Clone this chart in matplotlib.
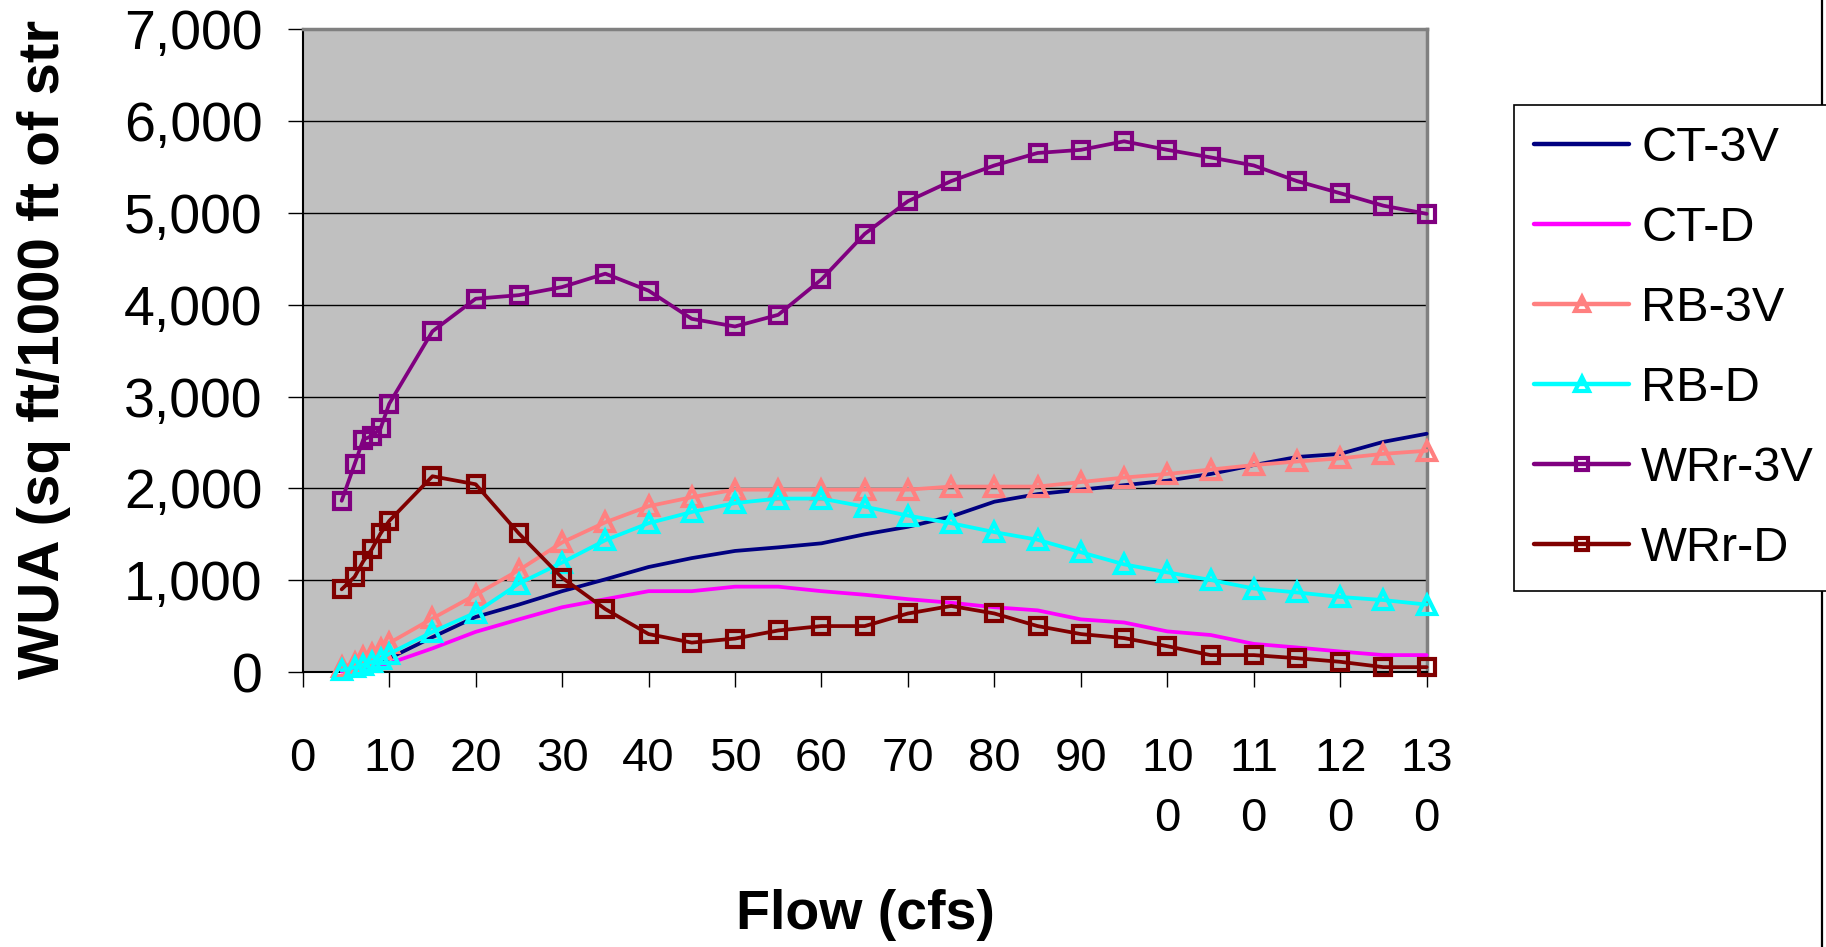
import matplotlib
matplotlib.use("Agg")
import matplotlib.pyplot as plt
from matplotlib.ticker import FuncFormatter, MultipleLocator
from matplotlib.lines import Line2D

plt.rcParams['font.family'] = ['Liberation Sans', 'DejaVu Sans']

# Flow values (cfs)
flow = [4.5, 6, 7, 8, 9, 10, 15, 20, 25, 30, 35, 40, 45, 50, 55, 60, 65,
        70, 75, 80, 85, 90, 95, 100, 105, 110, 115, 120, 125, 130]

# Weighted usable area per series
ct_3v = [10, 40, 65, 90, 115, 150, 380, 600, 735, 881, 1010, 1144, 1241, 1319,
         1358, 1402, 1500, 1582, 1694, 1855, 1938, 1986, 2035, 2084, 2157, 2254,
         2342, 2376, 2507, 2595]
ct_d = [5, 20, 35, 50, 65, 95, 258, 438, 574, 706, 794, 881, 881, 930, 930, 881,
        842, 794, 755, 706, 672, 574, 540, 443, 404, 307, 268, 224, 185, 185]
rb_3v = [50, 100, 160, 200, 250, 316, 584, 842, 1110, 1412, 1631, 1806, 1904,
         1986, 1986, 1986, 1986, 1986, 2020, 2020, 2020, 2069, 2118, 2157, 2205,
         2254, 2293, 2327, 2376, 2410]
rb_d = [20, 50, 80, 110, 140, 200, 438, 648, 964, 1193, 1436, 1621, 1743, 1840,
        1889, 1889, 1801, 1704, 1621, 1524, 1441, 1305, 1173, 1086, 1003, 910,
        867, 818, 784, 735]
wrr_3v = [1865, 2264, 2532, 2571, 2653, 2921, 3710, 4065, 4104, 4192, 4338, 4153,
          3846, 3763, 3890, 4275, 4771, 5127, 5346, 5516, 5652, 5686, 5779, 5686,
          5604, 5516, 5346, 5214, 5078, 4990]
wrr_d = [901, 1037, 1207, 1339, 1509, 1646, 2132, 2045, 1509, 1027, 686, 414, 321,
         365, 453, 501, 501, 638, 720, 638, 501, 414, 370, 282, 185, 185, 151, 112,
         54, 54]

series_names = ['CT-3V', 'CT-D', 'RB-3V', 'RB-D', 'WRr-3V', 'WRr-D']
x_tick_labels = ['0', '10', '20', '30', '40', '50', '60', '70', '80', '90',
                 '10\n0', '11\n0', '12\n0', '13\n0']
x_ticks = [0, 10, 20, 30, 40, 50, 60, 70, 80, 90, 100, 110, 120, 130]

fig = plt.figure(figsize=(18.26, 9.47), dpi=100)
ax = fig.add_axes([0.1658, 0.2903, 0.6155, 0.6789])
ax.set_facecolor('#C0C0C0')

styles = [
    dict(color='#000080', marker=None),
    dict(color='#FF00FF', marker=None),
    dict(color='#FF8080', marker='^'),
    dict(color='#00FFFF', marker='^'),
    dict(color='#800080', marker='s'),
    dict(color='#800000', marker='s'),
]
data = [ct_3v, ct_d, rb_3v, rb_d, wrr_3v, wrr_d]

handles = []
for name, vals, st in zip(series_names, data, styles):
    kw = dict(color=st['color'], lw=2.7, label=name, clip_on=False, zorder=3,
              solid_capstyle='round')
    if st['marker'] == '^':
        kw.update(marker='^', ms=13, mfc='none', mec=st['color'], mew=3.0)
    elif st['marker'] == 's':
        kw.update(marker='s', ms=11, mfc='none', mec=st['color'], mew=3.0)
    h, = ax.plot(flow, vals, **kw)
    handles.append(h)

ax.set_xlim(0, 130)
ax.set_ylim(0, 7000)
ax.yaxis.set_major_locator(MultipleLocator(1000))
ax.yaxis.set_major_formatter(FuncFormatter(lambda v, p: f'{int(v):,}'))
ax.set_xticks(x_ticks)
ax.set_xticklabels(x_tick_labels, linespacing=1.45)

ax.grid(axis='y', color='black', lw=1.0, zorder=1)
ax.set_axisbelow(True)

ax.tick_params(axis='y', direction='out', length=11, width=1, pad=18,
               labelsize=40, color='black')
ax.tick_params(axis='x', direction='out', length=11, width=1, pad=36,
               labelsize=34, color='black')
for lab in ax.get_xticklabels():
    lab.set_verticalalignment('top')
    lab.set_horizontalalignment('center')

for side in ['top', 'right']:
    ax.spines[side].set_color('#808080')
    ax.spines[side].set_linewidth(2.5)
for side in ['left', 'bottom']:
    ax.spines[side].set_color('black')
    ax.spines[side].set_linewidth(1.5)

fig.text(0.024, 0.283, 'WUA (sq ft/1000 ft of str', rotation=90,
         ha='center', va='bottom', fontsize=42, fontweight='bold')
fig.text(0.474, 0.034, 'Flow (cfs)', ha='center', va='center',
         fontsize=40, fontweight='bold')

leg = fig.legend(handles=handles, labels=series_names, loc='upper left',
                 bbox_to_anchor=(0.829, 0.889), fontsize=35, frameon=True,
                 fancybox=False, edgecolor='black', framealpha=1,
                 handlelength=1.95, handletextpad=0.25, labelspacing=0.72,
                 borderpad=0.42, borderaxespad=0.0, markerscale=0.8)
leg.get_frame().set_linewidth(1.2)
for ln in leg.get_lines():
    ln.set_linewidth(3.2)

# chart area edge on the right
fig.add_artist(Line2D([0.998, 0.998], [0.0, 1.0], color='black', lw=1.6,
                      transform=fig.transFigure))

fig.savefig('out.png', dpi=100)
